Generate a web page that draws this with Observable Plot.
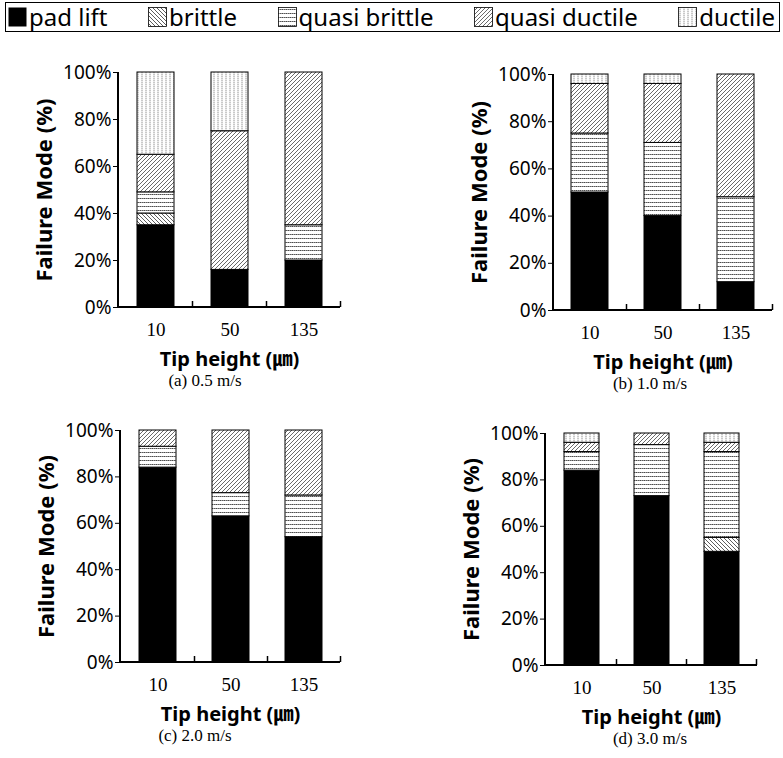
<!DOCTYPE html>
<html><head><meta charset="utf-8">
<script src="https://cdn.jsdelivr.net/npm/d3@7"></script>
<script src="https://cdn.jsdelivr.net/npm/@observablehq/plot@0.6"></script>
<style>
body{margin:0;background:#fff;}
#root{position:relative;width:783px;height:758px;overflow:hidden;font-family:"Noto Sans",sans-serif;}
#legend{position:absolute;left:5px;top:2px;width:767px;height:28px;border:1.5px solid #000;font-size:24px;display:flex;align-items:center;justify-content:space-between;padding:0 4px 0 2px;box-sizing:content-box;}
.item{display:flex;align-items:center;white-space:nowrap;line-height:28px;}
.item svg{margin-right:2px;}
.panel{position:absolute;}
.caption{position:absolute;font-family:"Liberation Serif",serif;font-size:17px;transform:translateX(-50%);white-space:nowrap;}
</style></head><body><div id="root"><div id="legend"></div></div>
<script>
const tipHeights = ["10", "50", "135"];
const modes = ["pad lift", "brittle", "quasi brittle", "quasi ductile", "ductile"];
const panelLabels = ["(a) 0.5 m/s", "(b) 1.0 m/s", "(c) 2.0 m/s", "(d) 3.0 m/s"];
const yTicks = [0, 20, 40, 60, 80, 100];
// rows: tip height 10, 50, 135 ; columns: pad lift, brittle, quasi brittle, quasi ductile, ductile (%)
const speed05 = [[35, 5, 9, 16, 35], [16, 0, 0, 59, 25], [20, 0, 15, 65, 0]];
const speed10 = [[50, 0, 25, 21, 4], [40, 0, 31, 25, 4], [12, 0, 36, 52, 0]];
const speed20 = [[84, 0, 9, 7, 0], [63, 0, 10, 27, 0], [54, 0, 18, 28, 0]];
const speed30 = [[84, 0, 8, 4, 4], [73, 0, 22, 5, 0], [49, 6, 37, 4, 4]];

function patternDefs(p) {
  return `
  <pattern id="${p}-1" patternUnits="userSpaceOnUse" width="4" height="4"><rect width="4" height="4" fill="#fff"/><path d="M-1,-1L5,5M-1,3L1,5M3,-1L5,1" stroke="#333" stroke-width="0.8"/></pattern>
  <pattern id="${p}-2" patternUnits="userSpaceOnUse" width="4" height="4"><rect width="4" height="4" fill="#fff"/><path d="M0,2.5H4" stroke="#333" stroke-width="0.9" stroke-dasharray="1.5,0.6"/></pattern>
  <pattern id="${p}-3" patternUnits="userSpaceOnUse" width="4" height="4"><rect width="4" height="4" fill="#fff"/><path d="M-1,5L5,-1M-1,1L1,-1M3,5L5,3" stroke="#444" stroke-width="0.8"/></pattern>
  <pattern id="${p}-4" patternUnits="userSpaceOnUse" width="4" height="4"><rect width="4" height="4" fill="#fff"/><path d="M2,0V4" stroke="#777" stroke-width="0.8" stroke-dasharray="1.2,0.6"/></pattern>`;
}
function fills(p) { return ["#000", `url(#${p}-1)`, `url(#${p}-2)`, `url(#${p}-3)`, `url(#${p}-4)`]; }

// legend
const legend = document.getElementById("legend");
modes.forEach((m, j) => {
  const it = document.createElement("div");
  it.className = "item";
  const f = fills("lg")[j];
  it.innerHTML = `<svg width="19" height="20"><defs>${patternDefs("lg")}</defs><rect x="0.5" y="0.5" width="18" height="19" fill="${f}" stroke="#000" stroke-width="${j === 0 ? 0 : 0.8}"/></svg><span>${m}</span>`;
  legend.appendChild(it);
});

const panels = [
  {vals: speed05, left: 0, top: 60, width: 360, ml: 118, mr: 20, mt: 12, plotH: 235, cap: 205},
  {vals: speed10, left: 400, top: 60, width: 383, ml: 153, mr: 11, mt: 14, plotH: 236, cap: 650},
  {vals: speed20, left: 0, top: 410, width: 360, ml: 120, mr: 20, mt: 20, plotH: 232, cap: 195},
  {vals: speed30, left: 400, top: 410, width: 383, ml: 145, mr: 26, mt: 23, plotH: 232, cap: 650}
];

const root = document.getElementById("root");
panels.forEach((P, k) => {
  const pid = "pp" + k;
  const rows = tipHeights.flatMap((t, i) => modes.map((m, j) => ({tip: t, mode: m, value: P.vals[i][j]}))).filter(d => d.value > 0);
  const mb = 70;
  const decor = (index, scales, values, dims) => {
    const g = d3.create("svg:g");
    g.append("defs").html(patternDefs(pid));
    const {x, y} = scales;
    const x0 = dims.marginLeft, x1 = dims.width - dims.marginRight;
    g.append("line").attr("x1", x0).attr("x2", x0).attr("y1", y(0) + 1).attr("y2", y(100)).attr("stroke", "#000").attr("stroke-width", 2);
    g.append("line").attr("x1", x0).attr("x2", x1).attr("y1", y(0)).attr("y2", y(0)).attr("stroke", "#000").attr("stroke-width", 2);
    const bw = x.bandwidth();
    tipHeights.forEach(t => {
      const bx = x(t) + 1.5 * bw;
      g.append("line").attr("x1", bx).attr("x2", bx).attr("y1", y(0)).attr("y2", y(0) - 6).attr("stroke", "#000").attr("stroke-width", 1.5);
    });
    return g.node();
  };
  const svg = Plot.plot({
    width: P.width,
    height: P.mt + P.plotH + mb,
    marginLeft: P.ml, marginRight: P.mr, marginTop: P.mt, marginBottom: mb,
    style: {fontFamily: "Noto Sans", fontSize: "19px", color: "#000", background: "transparent", overflow: "visible"},
    x: {domain: tipHeights, paddingInner: 0.5, paddingOuter: 0.25, axis: null},
    y: {domain: [0, 100], axis: null},
    color: {type: "ordinal", domain: modes, range: fills(pid)},
    marks: [
      Plot.barY(rows, {x: "tip", y: "value", fill: "mode", stroke: "#000", strokeWidth: 1}),
      Plot.axisY({ticks: yTicks, tickFormat: d => d + "%", tickSize: 5, tickPadding: 2, fontSize: 19, label: null}),
      Plot.axisX({tickSize: 0, tickPadding: 15, fontFamily: "Liberation Serif", fontSize: 19, label: null}),
      Plot.text(["Tip height (㎛)"], {frameAnchor: "bottom", dy: 58, fontWeight: "bold", fontSize: 20, fontFamily: "Noto Sans, Noto Sans CJK KR"}),
      Plot.text(["Failure Mode (%)"], {frameAnchor: "left", textAnchor: "middle", rotate: -90, dx: -74, fontWeight: "bold", fontSize: 22})
      , decor
    ]
  });
  const div = document.createElement("div");
  div.className = "panel";
  div.style.left = P.left + "px";
  div.style.top = P.top + "px";
  div.appendChild(svg);
  root.appendChild(div);
  const cap = document.createElement("div");
  cap.className = "caption";
  cap.textContent = panelLabels[k];
  cap.style.left = P.cap + "px";
  cap.style.top = (P.top + P.mt + P.plotH + 64) + "px";
  root.appendChild(cap);
});
</script></body></html>
